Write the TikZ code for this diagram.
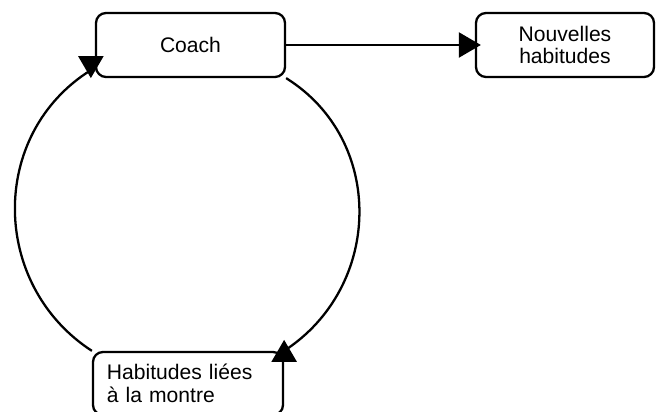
\documentclass[tikz,border=0pt]{standalone}
\usepackage{fontspec}
\setmainfont{Liberation Sans}
\usepackage{tikz}
\usetikzlibrary{arrows.meta,positioning,calc}

\tikzset{
  box/.style={draw,line width=1.3pt,rounded corners=0.2cm,minimum height=1.28cm,
    font=\fontsize{12}{13}\selectfont},
  link/.style={line width=1.3pt},
  bigtip/.style={-{Triangle[length=0.44cm,width=0.5cm]}}
}

\begin{document}
\begin{tikzpicture}
    \useasboundingbox (0,0) rectangle (13.12,-8.24);

    % Boxes
    \node[box,minimum width=3.78cm] (coach) at (3.81,-0.90) {Coach};
    \node[box,minimum width=3.56cm,align=center] (nouv) at (11.30,-0.90) {Nouvelles\\habitudes};
    \node[box,text width=3.24cm,inner xsep=0.28cm,minimum height=1.26cm,align=left] (hab) at (3.76,-7.67) {Habitudes li\'ees\\\`a la montre};

    % Coach to new habits
    \draw[link,bigtip,shorten >=-0.12cm] (coach) -- (nouv);

    % Loop between coach and habits
    \draw[link,bigtip] (hab.north west) to[out=147,in=212,looseness=1.1]
        ($(coach.south west)+(-0.08,0.16)$) -- ($(coach.south west)+(-0.08,0)$);
    \draw[link,bigtip] (coach.south east) to[out=-32,in=33,looseness=1.1]
        (hab.north east) -- ++(0,0.22);
\end{tikzpicture}
\end{document}
